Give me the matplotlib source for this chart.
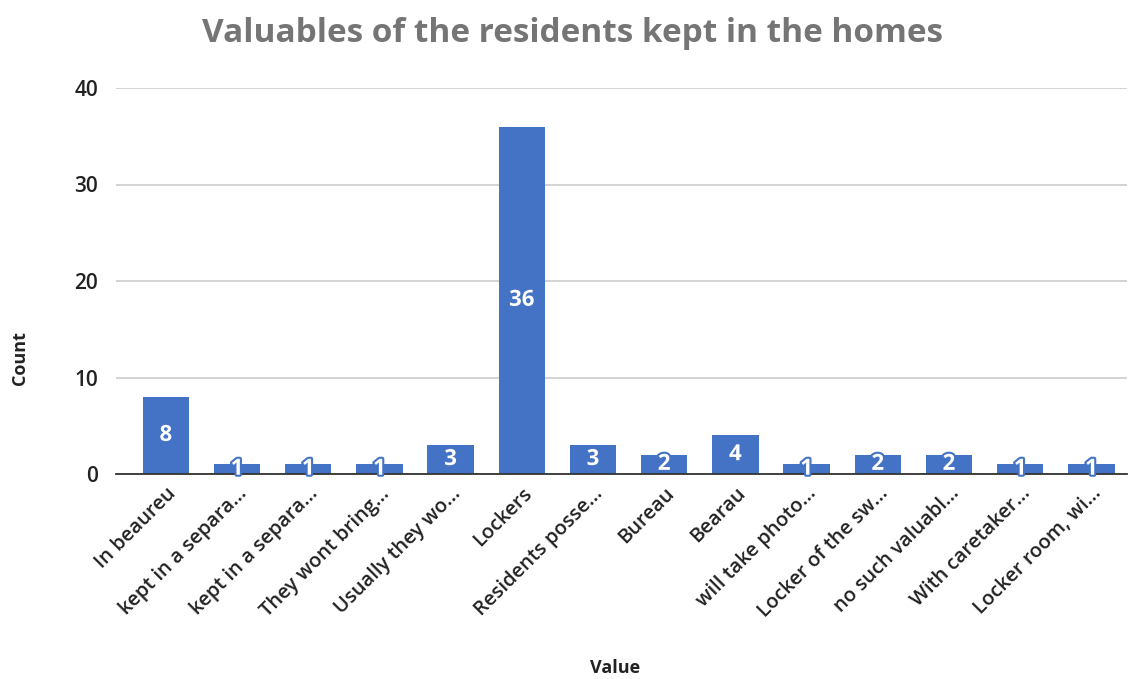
import matplotlib
matplotlib.use("Agg")
import matplotlib.pyplot as plt
import matplotlib.patheffects as pe

categories = ["In beaureu", "kept in a separa…", "kept in a separa…", "They wont bring…",
              "Usually they wo…", "Lockers", "Residents posse…", "Bureau", "Bearau",
              "will take photo…", "Locker of the sw…", "no such valuabl…",
              "With caretaker…", "Locker room, wi…"]
counts = [8, 1, 1, 1, 3, 36, 3, 2, 4, 1, 2, 2, 1, 1]
yticks = [0, 10, 20, 30, 40]

BLUE = "#4472C4"
plt.rcParams['font.family'] = ['Open Sans', 'DejaVu Sans']

fig = plt.figure(figsize=(11.29, 6.79), dpi=100)
ax = fig.add_axes([116/1129, 205/679, 1011/1129, 386/679])

x = list(range(len(categories)))
bars = ax.bar(x, counts, width=0.65, color=BLUE, zorder=3)

for xi, v in zip(x, counts):
    ax.text(xi, v/2, str(v), ha='center', va='center', color='white',
            fontsize=16, fontweight='bold', zorder=5,
            path_effects=[pe.withStroke(linewidth=3, foreground=BLUE)])

ax.set_ylim(0, 40)
ax.set_xlim(-0.70, 13.5)
ax.set_yticks(yticks)
ax.set_yticklabels([str(t) for t in yticks], fontsize=15, fontweight='semibold', color='#222222')
ax.set_xticks(x)
ax.set_xticklabels(categories, rotation=45, ha='right', rotation_mode='anchor',
                   fontsize=14.5, fontweight='semibold', color='#222222')
ax.tick_params(axis='both', length=0)
ax.tick_params(axis='y', pad=13)
ax.tick_params(axis='x', pad=7)

ax.grid(axis='y', color='#cccccc', linewidth=1.2, zorder=0)
for s in ['top', 'right', 'left']:
    ax.spines[s].set_visible(False)
ax.spines['bottom'].set_color('#333333')
ax.spines['bottom'].set_linewidth(1.3)
ax.spines['bottom'].set_zorder(4)

fig.text(573/1129, 1 - 33/679, "Valuables of the residents kept in the homes",
         ha='center', va='center', fontsize=24, fontweight='bold', color='#757575')
fig.text(20/1129, 1 - 358/679, "Count", rotation=90, ha='center', va='center',
         fontsize=13, fontweight='bold', color='#222222')
fig.text(615/1129, 1 - 668/679, "Value", ha='center', va='center',
         fontsize=13, fontweight='bold', color='#222222')

fig.savefig("out.png", dpi=100)
